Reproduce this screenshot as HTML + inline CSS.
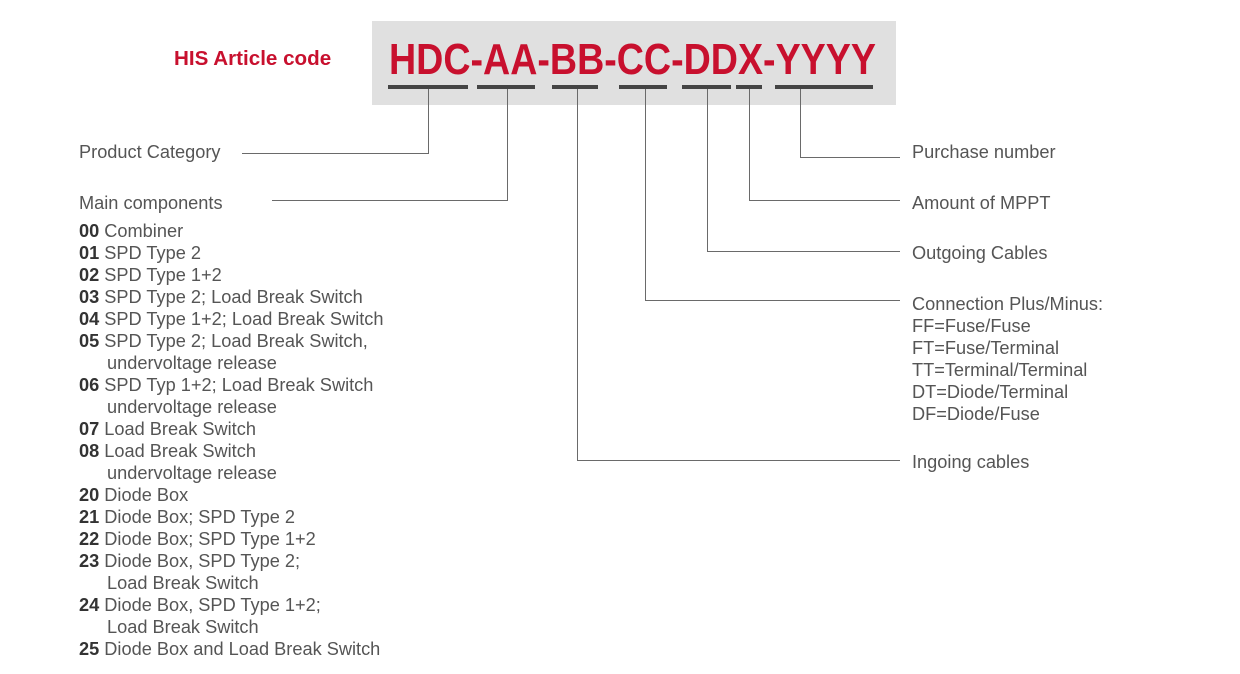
<!DOCTYPE html>
<html><head><meta charset="utf-8"><style>
body{margin:0;width:1240px;height:674px;background:#fff;position:relative;overflow:hidden;font-family:"Liberation Sans",sans-serif;color:#555}
.t{position:absolute;font-size:18.2px;line-height:22px;white-space:nowrap}
.t b{color:#333}
.ln{position:absolute;background:#6a6a6a}
.u{position:absolute;top:85px;height:4px;background:#444}
</style></head><body>
<div style="position:absolute;left:372px;top:21px;width:524px;height:84px;background:#e0e0e0"></div>
<div style="position:absolute;left:174px;top:47px;font-size:20.6px;font-weight:bold;color:#c8102e">HIS Article code</div>
<div style="position:absolute;left:389px;top:35px;font-size:44px;font-weight:bold;color:#c8102e;transform-origin:0 0;transform:scaleX(0.855);white-space:nowrap;line-height:50px">HDC-AA-BB-CC-DDX-YYYY</div>
<div class="u" style="left:388px;width:80px"></div>
<div class="u" style="left:477px;width:58px"></div>
<div class="u" style="left:552px;width:46px"></div>
<div class="u" style="left:619px;width:48px"></div>
<div class="u" style="left:682px;width:49px"></div>
<div class="u" style="left:736px;width:26px"></div>
<div class="u" style="left:775px;width:98px"></div>

<div class="ln" style="left:428px;top:89px;width:1px;height:64px"></div>
<div class="ln" style="left:242px;top:153px;width:187px;height:1px"></div>
<div class="ln" style="left:507px;top:89px;width:1px;height:111px"></div>
<div class="ln" style="left:272px;top:200px;width:236px;height:1px"></div>
<div class="ln" style="left:577px;top:89px;width:1px;height:371px"></div>
<div class="ln" style="left:577px;top:460px;width:323px;height:1px"></div>
<div class="ln" style="left:645px;top:89px;width:1px;height:211px"></div>
<div class="ln" style="left:645px;top:300px;width:255px;height:1px"></div>
<div class="ln" style="left:707px;top:89px;width:1px;height:162px"></div>
<div class="ln" style="left:707px;top:251px;width:193px;height:1px"></div>
<div class="ln" style="left:749px;top:89px;width:1px;height:111px"></div>
<div class="ln" style="left:749px;top:200px;width:151px;height:1px"></div>
<div class="ln" style="left:800px;top:89px;width:1px;height:68px"></div>
<div class="ln" style="left:800px;top:157px;width:100px;height:1px"></div>

<div class="t" style="left:79px;top:141px">Product Category</div>
<div class="t" style="left:79px;top:192px">Main components</div>
<div class="t" style="left:79px;top:220px"><b>00</b> Combiner<br><b>01</b> SPD Type 2<br><b>02</b> SPD Type 1+2<br><b>03</b> SPD Type 2; Load Break Switch<br><b>04</b> SPD Type 1+2; Load Break Switch<br><b>05</b> SPD Type 2; Load Break Switch,<br><span style="padding-left:28px">undervoltage release</span><br><b>06</b> SPD Typ 1+2; Load Break Switch<br><span style="padding-left:28px">undervoltage release</span><br><b>07</b> Load Break Switch<br><b>08</b> Load Break Switch<br><span style="padding-left:28px">undervoltage release</span><br><b>20</b> Diode Box<br><b>21</b> Diode Box; SPD Type 2<br><b>22</b> Diode Box; SPD Type 1+2<br><b>23</b> Diode Box, SPD Type 2;<br><span style="padding-left:28px">Load Break Switch</span><br><b>24</b> Diode Box, SPD Type 1+2;<br><span style="padding-left:28px">Load Break Switch</span><br><b>25</b> Diode Box and Load Break Switch</div>

<div class="t" style="left:912px;top:141px">Purchase number</div>
<div class="t" style="left:912px;top:192px">Amount of MPPT</div>
<div class="t" style="left:912px;top:242px">Outgoing Cables</div>
<div class="t" style="left:912px;top:293px">Connection Plus/Minus:<br>FF=Fuse/Fuse<br>FT=Fuse/Terminal<br>TT=Terminal/Terminal<br>DT=Diode/Terminal<br>DF=Diode/Fuse</div>
<div class="t" style="left:912px;top:451px">Ingoing cables</div>
</body></html>
